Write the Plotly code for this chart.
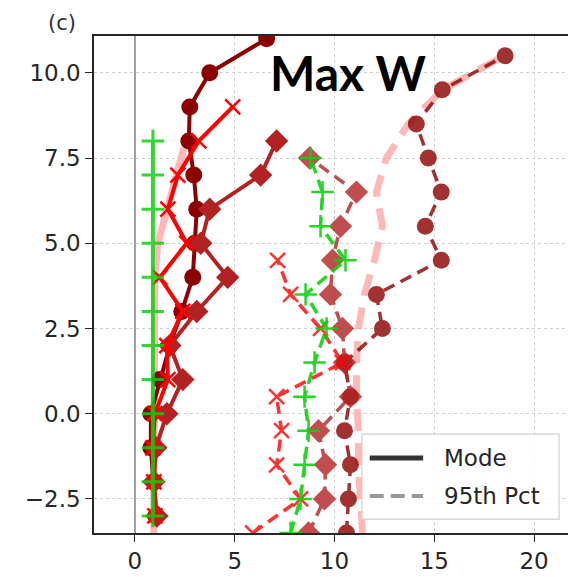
import plotly.graph_objects as go

# ---------------- data ----------------
# Mode profiles (solid lines), levels every 1 unit
mode_dr_y = [-3, -2, -1, 0, 1, 2, 3, 4, 5, 6, 7, 8, 9, 10, 11]
mode_dr_x = [1.05, 0.95, 0.8, 0.8, 1.25, 1.75, 2.35, 2.9, 3.0, 3.1, 2.95, 2.7, 2.75, 3.75, 6.6]

mode_red_y = [-3, -2, -1, 0, 1, 2, 3, 4, 5, 6, 7, 8, 9]
mode_red_x = [1.0, 0.95, 0.9, 1.0, 1.65, 1.6, 2.4, 1.25, 2.6, 1.65, 2.15, 3.2, 4.9]

mode_fb_y = [-3, -2, -1, 0, 1, 2, 3, 4, 5, 6, 7, 8]
mode_fb_x = [1.1, 0.95, 1.05, 1.6, 2.4, 1.75, 3.1, 4.65, 3.3, 3.75, 6.3, 7.1]

mode_gr_y = [-3, -2, -1, 0, 1, 2, 3, 4, 5, 6, 7, 8]
mode_gr_x = [0.9, 0.9, 0.9, 0.9, 0.9, 0.9, 0.9, 0.9, 0.9, 0.9, 0.9, 0.9]

mode_mean_y = [-3.5, -3, -2, -1, 0, 1, 2, 3, 4, 5, 6, 7, 7.8]
mode_mean_x = [0.95, 0.95, 0.95, 0.95, 0.95, 0.95, 0.95, 0.95, 1.0, 1.15, 1.6, 2.05, 2.45]

# 95th percentile profiles (dashed lines), levels at half units
p95_dr_y = [-3.5, -2.5, -1.5, -0.5, 0.5, 1.5, 2.5, 3.5, 4.5, 5.5, 6.5, 7.5, 8.5, 9.5, 10.5]
p95_dr_x = [10.6, 10.7, 10.8, 10.5, 10.8, 10.5, 12.4, 12.1, 15.35, 14.55, 15.35, 14.7, 14.1, 15.4, 18.55]

p95_red_y = [-3.5, -2.5, -1.5, -0.5, 0.5, 1.5, 2.5, 3.5, 4.5]
p95_red_x = [5.9, 8.3, 7.1, 7.35, 7.1, 10.4, 9.3, 7.8, 7.15]

p95_fb_y = [-3.5, -2.5, -1.5, -0.5, 0.5, 1.5, 2.5, 3.5, 4.5, 5.5, 6.5, 7.5]
p95_fb_x = [8.7, 9.5, 9.55, 9.2, 10.8, 10.5, 10.4, 9.8, 9.9, 10.3, 11.1, 8.75]

p95_gr_y = [-3.5, -2.5, -1.5, -0.5, 0.5, 1.5, 2.5, 3.5, 4.5, 5.5, 6.5, 7.5]
p95_gr_x = [7.8, 8.3, 8.5, 8.7, 8.5, 9.0, 9.6, 8.55, 10.55, 9.3, 9.4, 8.8]

p95_mean_y = [-3.5, -2.5, -1.5, -0.5, 0.5, 1.5, 2.5, 3.5, 4.5, 5.5, 6.5, 7.5, 8.5, 9.5, 10.5]
p95_mean_x = [11.4, 11.3, 11.2, 11.2, 11.1, 11.1, 11.2, 11.5, 12.0, 12.4, 12.1, 12.6, 13.7, 15.4, 18.5]

x_ticks = [0, 5, 10, 15, 20]
y_ticks = [-2.5, 0.0, 2.5, 5.0, 7.5, 10.0]
y_tick_labels = ["\u22122.5", "0.0", "2.5", "5.0", "7.5", "10.0"]
legend_names = ["Mode", "95th Pct"]

# ---------------- styles ----------------
DARKRED = "#8B0000"
RED = "#FF0000"
FIREBRICK = "#B22222"
GREEN = "#10D010"
PINK = "rgba(255,160,160,0.75)"

fig = go.Figure()

# mean curves (pink, underneath)
fig.add_trace(go.Scatter(x=mode_mean_x, y=mode_mean_y, mode="lines",
                         line=dict(color=PINK, width=7), showlegend=False))
fig.add_trace(go.Scatter(x=p95_mean_x, y=p95_mean_y, mode="lines",
                         line=dict(color=PINK, width=7, dash="22px,12px"), showlegend=False))

def solid(x, y, color, symbol, size, mlw=0, opacity=1.0):
    fig.add_trace(go.Scatter(
        x=x, y=y, mode="lines+markers", opacity=opacity,
        line=dict(color=color, width=4),
        marker=dict(symbol=symbol, size=size, color=color,
                    line=dict(color=color, width=mlw)),
        showlegend=False))

def dashed(x, y, color, symbol, size, mlw=0, opacity=0.8):
    fig.add_trace(go.Scatter(
        x=x, y=y, mode="lines+markers", opacity=opacity,
        line=dict(color=color, width=3.5, dash="12px,7px"),
        marker=dict(symbol=symbol, size=size, color=color,
                    line=dict(color=color, width=mlw)),
        showlegend=False))

# 95th percentile (dashed)
dashed(p95_dr_x, p95_dr_y, DARKRED, "circle", 17)
dashed(p95_fb_x, p95_fb_y, FIREBRICK, "diamond", 18)
dashed(p95_red_x, p95_red_y, RED, "x-thin", 15, mlw=2.5)
dashed(p95_gr_x, p95_gr_y, GREEN, "cross-thin", 16, mlw=2.5, opacity=0.9)

# Mode (solid)
solid(mode_dr_x, mode_dr_y, DARKRED, "circle", 17)
solid(mode_fb_x, mode_fb_y, FIREBRICK, "diamond", 18)
solid(mode_red_x, mode_red_y, RED, "x-thin", 15, mlw=2.5)
solid(mode_gr_x, mode_gr_y, GREEN, "cross-thin", 16, mlw=3, opacity=0.85)

axis_common = dict(
    showline=True, mirror=True, linecolor="#262626", linewidth=1.5,
    ticks="outside", ticklen=7, tickwidth=1.3, tickcolor="#262626",
    showgrid=True, gridcolor="#d0d0d0", gridwidth=1.2, griddash="dot",
    tickfont=dict(family="DejaVu Sans", size=23, color="#262626"),
)

fig.update_xaxes(range=[-2.05, 21.85], tickvals=x_ticks,
                 zeroline=True, zerolinecolor="#a0a0a0", zerolinewidth=1.5,
                 **axis_common)
fig.update_yaxes(range=[-3.5, 11.08], tickvals=y_ticks, ticktext=y_tick_labels,
                 zeroline=False, **axis_common)

fig.add_annotation(text="(c)", xref="paper", yref="paper", x=-0.068, y=1.026,
                   xanchor="center", yanchor="middle", showarrow=False,
                   font=dict(family="DejaVu Sans", size=21, color="#333333"))
fig.add_annotation(text="<b>Max W</b>", xref="paper", yref="paper", x=0.534, y=0.927,
                   xanchor="center", yanchor="middle", showarrow=False,
                   font=dict(family="Lato", size=48, color="#000000"))

# ---------------- legend (drawn manually, matplotlib style) ----------------
fig.add_shape(type="rect", xref="paper", yref="paper",
              x0=0.5616, x1=0.975, y0=0.028, y1=0.199, layer="above",
              fillcolor="rgba(255,255,255,0.85)", line=dict(color="#d0d0d0", width=1.2))
fig.add_shape(type="line", xref="paper", yref="paper",
              x0=0.578, x1=0.690, y0=0.151, y1=0.151, layer="above",
              line=dict(color="#333333", width=5))
fig.add_shape(type="line", xref="paper", yref="paper",
              x0=0.578, x1=0.690, y0=0.0744, y1=0.0744, layer="above",
              line=dict(color="#999999", width=4, dash="14px,7px"))
for yy, name in zip([0.151, 0.0744], legend_names):
    fig.add_annotation(text=name, xref="paper", yref="paper", x=0.730, y=yy,
                       xanchor="left", yanchor="middle", showarrow=False,
                       font=dict(family="DejaVu Sans", size=23, color="#262626"))

# page body has an 8px margin, so the figure is 8px smaller than the window
fig.update_layout(
    width=568, height=569,
    margin=dict(l=86, r=3, t=28, b=44),
    paper_bgcolor="white", plot_bgcolor="white",
    showlegend=False,
)

fig.write_html("out.html")
